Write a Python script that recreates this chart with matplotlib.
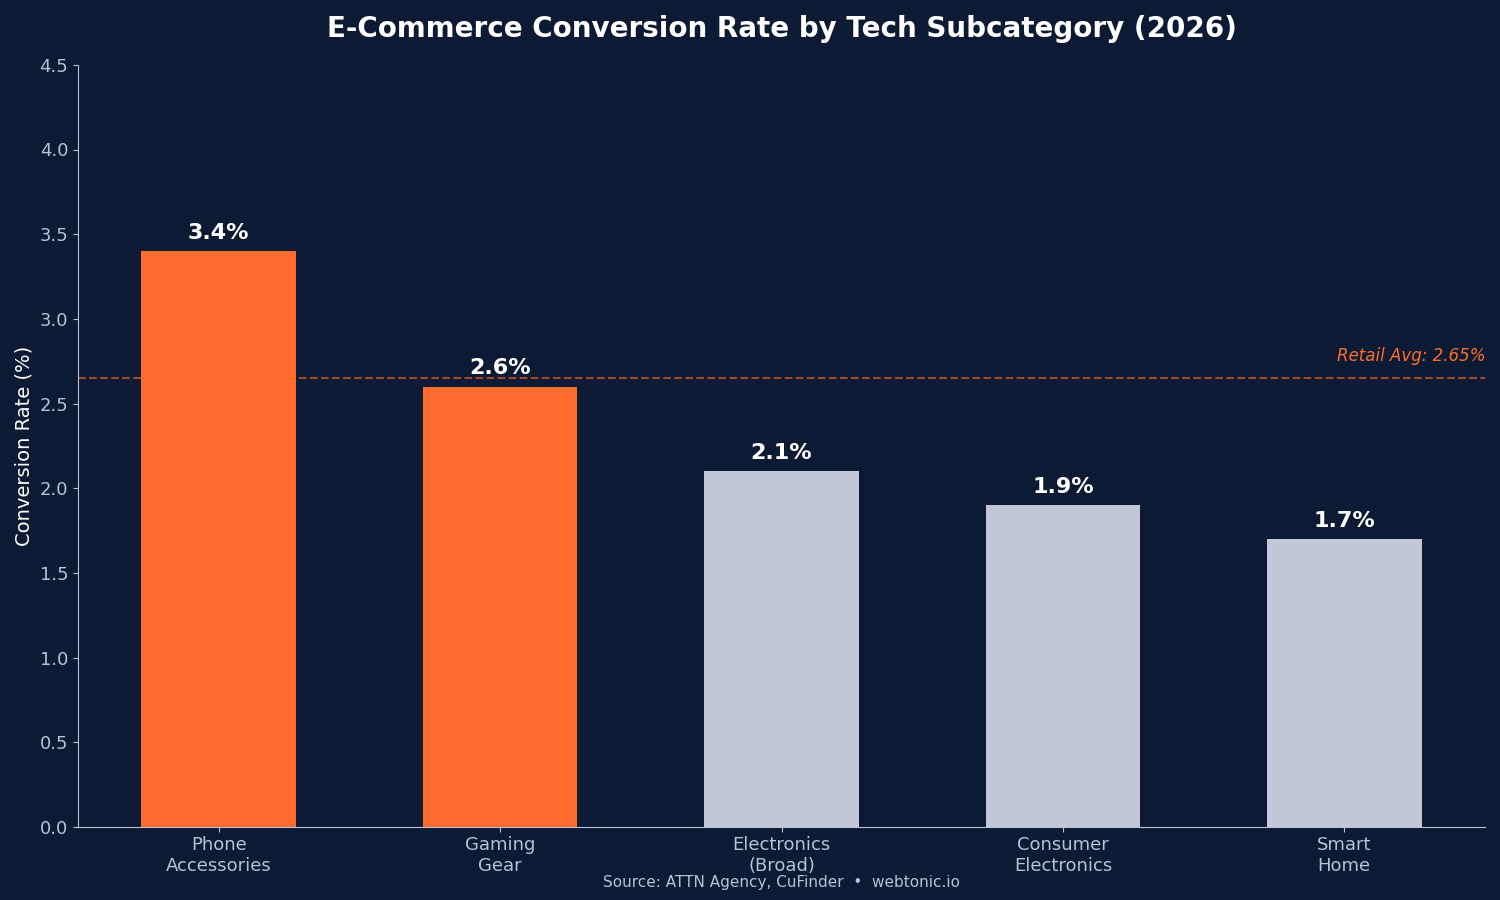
import matplotlib
matplotlib.use("Agg")
import matplotlib.pyplot as plt
import numpy as np

# data
categories = ["Phone\nAccessories", "Gaming\nGear", "Electronics\n(Broad)",
              "Consumer\nElectronics", "Smart\nHome"]
rates = [3.4, 2.6, 2.1, 1.9, 1.7]
highlight = [True, True, False, False, False]
retail_avg = 2.65

bg = "#0c1b33"
orange = "#ff6b2c"
grey = "#c1c7d6"
tick_col = "#b8c2d6"

fig, ax = plt.subplots(figsize=(15, 9), dpi=100)
fig.patch.set_facecolor(bg)
ax.set_facecolor(bg)

x = np.arange(len(categories))
colors = [orange if h else grey for h in highlight]
ax.bar(x, rates, width=0.55, color=colors, zorder=2)

for xi, v in zip(x, rates):
    ax.text(xi, v + 0.05, f"{v}%", ha="center", va="bottom",
            fontsize=16, fontweight="bold", color="white")

ax.axhline(retail_avg, color=orange, alpha=0.6, linestyle="--", linewidth=1.5, zorder=1)
ax.text(len(categories) - 0.5, retail_avg + 0.08, f"Retail Avg: {retail_avg}%",
        ha="right", va="bottom", fontsize=12, fontstyle="italic", color=orange)

ax.set_xlim(-0.5, len(categories) - 0.5)
ax.set_ylim(0, 4.5)
ax.set_yticks(np.arange(0, 4.6, 0.5))
ax.set_xticks(x)
ax.set_xticklabels(categories)
ax.tick_params(colors=tick_col, labelsize=13)
ax.tick_params(axis="x", pad=3)
ax.set_ylabel("Conversion Rate (%)", color="white", fontsize=14)
ax.set_title("E-Commerce Conversion Rate by Tech Subcategory (2026)",
             color="white", fontsize=20, fontweight="bold", pad=20)

for s in ["top", "right"]:
    ax.spines[s].set_visible(False)
for s in ["left", "bottom"]:
    ax.spines[s].set_color(tick_col)

fig.text(0.521, 0.019, "Source: ATTN Agency, CuFinder  \u2022  webtonic.io",
         ha="center", va="center", fontsize=11, color=tick_col)

plt.subplots_adjust(left=0.052, right=0.99, top=0.928, bottom=0.081)
plt.savefig("out.png", facecolor=bg)
